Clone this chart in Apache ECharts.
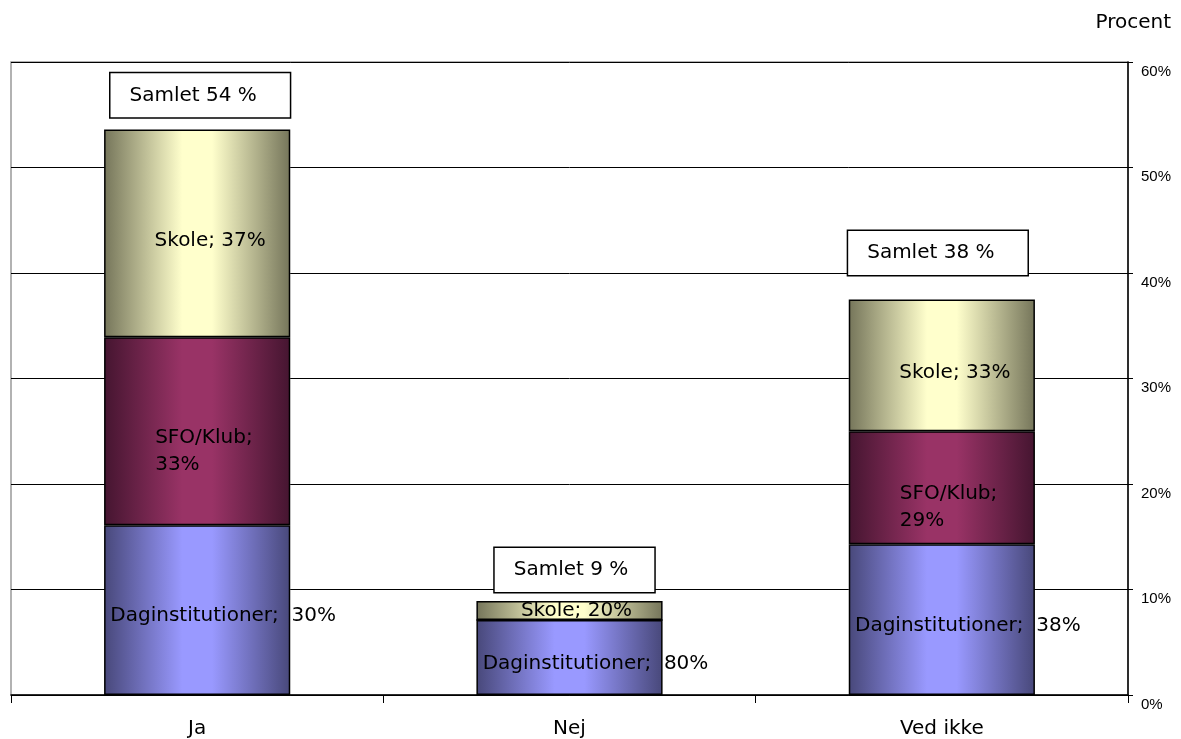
<!DOCTYPE html>
<html>
<head>
<meta charset="utf-8">
<script src="https://cdn.jsdelivr.net/npm/echarts@6/dist/echarts.min.js"></script>
<style>
  html, body { margin: 0; padding: 0; background: #fff; }
  #chart { width: 1181px; height: 739px; }
</style>
</head>
<body>
<div id="chart"></div>
<script>
// categories on the x axis
const categories = ['Ja', 'Nej', 'Ved ikke']

// segment heights in percentage points
const daginValues = [16.1, 7.1, 14.3]
const sfoValues = [17.8, 0, 10.7]
const skoleValues = [19.7, 1.8, 12.5]

// share of each segment inside its bar (label text)
const daginShares = [30, 80, 38]
const sfoShares = [33, null, 29]
const skoleShares = [37, 20, 33]

// totals shown in the boxes above the bars
const totals = [54, 9, 38]

const yTicks = [0, 10, 20, 30, 40, 50, 60]

const FONT = 'DejaVu Sans'

// cylinder-like horizontal gradient
const shade = (dark, light) => new echarts.graphic.LinearGradient(0, 0, 1, 0, [
  { offset: 0, color: dark },
  { offset: 0.42, color: light },
  { offset: 0.58, color: light },
  { offset: 1, color: dark }
])

const barBase = {
  type: 'bar',
  stack: 'total',
  barWidth: '50%',
  itemStyle: { borderColor: '#000', borderWidth: 1.5 }
}

const labelBase = {
  show: true,
  position: 'inside',
  color: '#000',
  fontFamily: FONT,
  fontSize: 20,
  textBorderWidth: 0
}

// placement of the "Samlet" boxes relative to the totals
const boxOffsets = [[3, -30], [5, -30], [-4, -41]]
const boxPadding = [[14, 33, 10, 19], [14, 26, 10, 19], [14, 33, 10, 19]]

const chart = echarts.init(document.getElementById('chart'))

const option = {
  animation: false,
  title: {
    text: 'Procent',
    right: 5,
    top: 8,
    textStyle: { fontFamily: FONT, fontSize: 20, fontWeight: 'normal', color: '#000' }
  },
  grid: {
    left: 11,
    right: 53,
    top: 62,
    bottom: 44,
    show: true,
    borderColor: '#999',
    borderWidth: 1.5,
    backgroundColor: '#fff'
  },
  xAxis: {
    type: 'category',
    data: categories,
    axisLine: { lineStyle: { color: '#000', width: 1.5 } },
    axisTick: { show: true, length: 8, interval: 0, lineStyle: { color: '#000' } },
    axisLabel: { color: '#000', fontFamily: FONT, fontSize: 20, margin: 24 }
  },
  yAxis: {
    type: 'value',
    position: 'right',
    min: yTicks[0],
    max: yTicks[yTicks.length - 1],
    interval: 10,
    axisLine: { show: true, lineStyle: { color: '#000', width: 1.5 } },
    axisTick: { show: true, length: 5, lineStyle: { color: '#000' } },
    axisLabel: {
      color: '#000',
      fontFamily: 'Liberation Sans',
      fontSize: 15,
      margin: 13,
      verticalAlign: 'top',
      padding: [2, 0, 0, 0],
      formatter: '{value}%'
    },
    splitLine: { lineStyle: { color: '#000', width: 1 } }
  },
  series: [
    {
      ...barBase,
      name: 'Daginstitutioner',
      data: daginValues,
      itemStyle: { ...barBase.itemStyle, color: shade('#48487a', '#9999ff') },
      label: {
        ...labelBase,
        offset: [26, 6],
        formatter: p => 'Daginstitutioner;  ' + daginShares[p.dataIndex] + '%'
      }
    },
    {
      ...barBase,
      name: 'SFO/Klub',
      data: sfoValues,
      itemStyle: { ...barBase.itemStyle, color: shade('#451530', '#993366') },
      label: {
        ...labelBase,
        align: 'left',
        lineHeight: 27,
        offset: [-42, 20],
        formatter: p => sfoShares[p.dataIndex] == null ? '' : 'SFO/Klub;\n' + sfoShares[p.dataIndex] + '%'
      }
    },
    {
      ...barBase,
      name: 'Skole',
      data: skoleValues.map((v, i) => i === 1 ? { value: v, label: { offset: [7, 0] } } : v),
      itemStyle: { ...barBase.itemStyle, color: shade('#75755a', '#ffffcc') },
      label: {
        ...labelBase,
        offset: [13, 7],
        formatter: p => 'Skole; ' + skoleShares[p.dataIndex] + '%'
      }
    },
    {
      name: 'Samlet',
      type: 'scatter',
      symbolSize: 0,
      silent: true,
      z: 10,
      itemStyle: { opacity: 1 },
      data: totals.map((v, i) => ({
        value: v,
        label: { offset: boxOffsets[i], padding: boxPadding[i] }
      })),
      label: {
        ...labelBase,
        position: 'inside',
        backgroundColor: '#fff',
        borderColor: '#000',
        borderWidth: 1.5,
        formatter: p => 'Samlet ' + p.value + ' %'
      }
    }
  ]
}

chart.setOption(option)
</script>
</body>
</html>
